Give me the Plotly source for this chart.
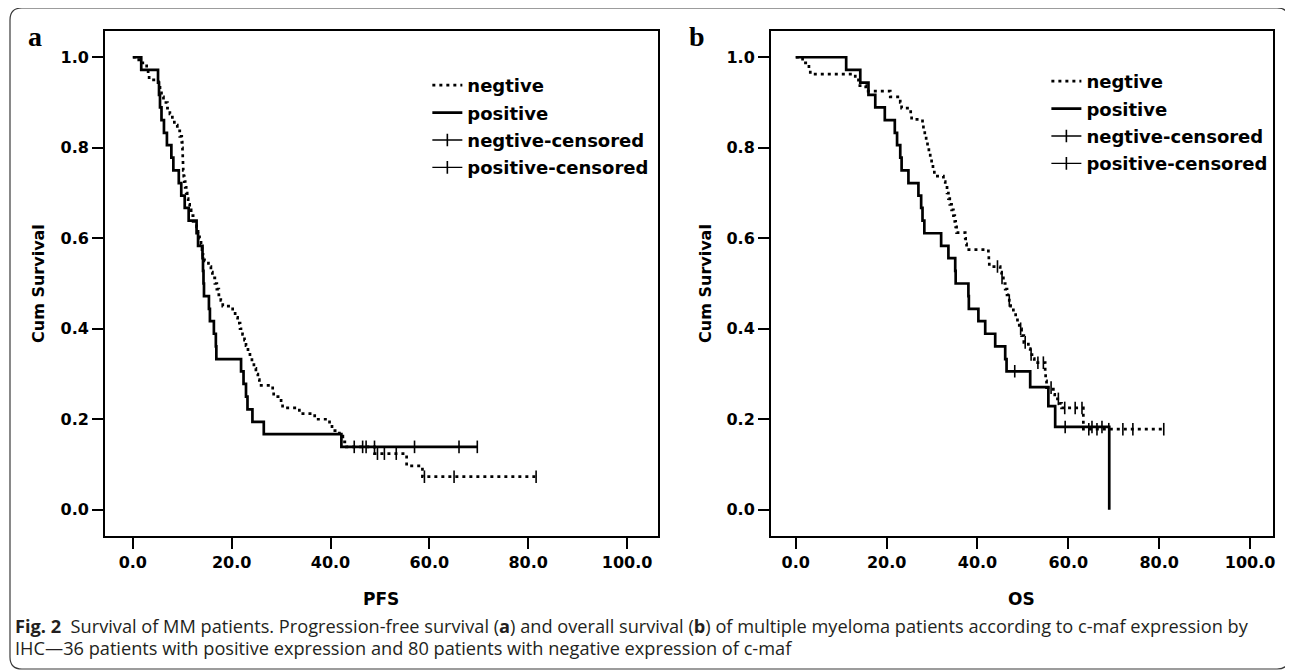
import plotly.graph_objects as go

# page body has an 8px default margin, so the figure is sized to fit the window
OFF = 8
FW, FH = 1293 - OFF, 672 - OFF

# ---------------- data ----------------
# PFS, c-maf positive (solid)
pfs_pos_t = [0, 1.7, 5.1, 5.3, 5.5, 5.8, 6.3, 6.9, 7.8, 8.2, 9.3, 9.8, 10.5, 11.3, 12.9, 13.2,
             14.1, 14.2, 14.3, 14.4, 15.4, 15.6, 16.4, 16.8, 16.9, 21.9, 22.4, 22.9, 23.2, 24.2,
             26.5, 42.2]
pfs_pos_s = [1.0, 0.972, 0.944, 0.917, 0.889, 0.861, 0.833, 0.806, 0.778, 0.750, 0.722, 0.694,
             0.667, 0.639, 0.611, 0.583, 0.556, 0.528, 0.500, 0.472, 0.444, 0.417, 0.389, 0.361,
             0.333, 0.306, 0.278, 0.250, 0.222, 0.194, 0.167, 0.139]
pfs_pos_end = 69.7
pfs_pos_cens_t = [47.2, 48.9, 57.0, 66.0, 69.7]
pfs_pos_cens_s = [0.139, 0.139, 0.139, 0.139, 0.139]

# PFS, c-maf negative (dotted)
pfs_neg_t = [0, 1.2, 2.8, 3.1, 3.3, 5.2, 5.5, 5.8, 6.2, 7.0, 7.5, 8.0, 8.4, 9.0, 9.5, 9.9, 10.0,
             10.05, 10.1, 10.15, 10.2, 10.3, 10.4, 10.6, 10.8, 11.0, 11.2, 11.5, 11.8, 12.2, 12.9,
             13.2, 13.5, 13.8, 14.0, 14.2, 14.5, 15.3, 15.8, 16.1, 16.6, 17.0, 17.4, 17.8, 18.2,
             20.2, 20.7, 21.2, 21.7, 22.2, 22.6, 22.9, 23.3, 23.7, 24.1, 24.5, 24.9, 25.3, 25.6,
             28.3, 28.5, 30.0, 30.3, 33.7, 36.8, 39.8, 40.3, 41.8, 42.5, 43.2, 48.9, 55.4, 58.6]
pfs_neg_s = [1.0, 0.9875, 0.975, 0.9625, 0.95, 0.9375, 0.925, 0.9125, 0.90, 0.8875, 0.875,
             0.8625, 0.85, 0.8375, 0.825, 0.8125, 0.80, 0.7875, 0.775, 0.7625, 0.75, 0.7375,
             0.725, 0.7125, 0.70, 0.6875, 0.675, 0.6625, 0.65, 0.6375, 0.625, 0.6125, 0.60,
             0.5875, 0.575, 0.5625, 0.55, 0.5375, 0.525, 0.5125, 0.50, 0.4875, 0.475, 0.4625,
             0.45, 0.4375, 0.425, 0.4125, 0.40, 0.3875, 0.375, 0.3625, 0.35, 0.3375, 0.325,
             0.3125, 0.30, 0.2875, 0.275, 0.2625, 0.25, 0.2375, 0.225, 0.2125, 0.20, 0.1875,
             0.175, 0.1625, 0.15, 0.139, 0.124, 0.097, 0.073]
pfs_neg_end = 81.6
pfs_neg_cens_t = [44.8, 46.5, 49.5, 50.9, 53.3, 59.0, 65.0, 81.6]
pfs_neg_cens_s = [0.139, 0.139, 0.124, 0.124, 0.124, 0.073, 0.073, 0.073]

# OS, c-maf positive (solid)
os_pos_t = [0, 11.1, 14.2, 16.0, 17.5, 19.6, 21.8, 22.3, 23.0, 23.3, 24.8, 27.0, 27.6, 27.9, 28.3,
            32.0, 33.6, 35.1, 35.2, 38.0, 38.1, 40.2, 41.7, 43.9, 46.1, 46.4, 51.6, 55.6, 57.1,
            69.0]
os_pos_s = [1.0, 0.972, 0.944, 0.917, 0.889, 0.861, 0.833, 0.806, 0.778, 0.750, 0.722, 0.694,
            0.667, 0.639, 0.611, 0.583, 0.556, 0.528, 0.500, 0.472, 0.444, 0.417, 0.389, 0.361,
            0.333, 0.306, 0.271, 0.229, 0.183, 0.0]
os_pos_end = 69.0
os_pos_cens_t = [48.2, 59.3, 65.2, 67.4]
os_pos_cens_s = [0.306, 0.183, 0.183, 0.183]

# OS, c-maf negative (dotted)
os_neg_t = [0, 1.5, 2.9, 3.2, 13.1, 13.8, 15.4, 20.8, 23.0, 23.3, 25.3, 25.5, 27.9, 28.1, 28.4,
            28.7, 29.0, 29.3, 29.6, 29.9, 30.2, 30.5, 32.5, 32.9, 33.3, 33.6, 33.9, 34.3, 34.7,
            35.0, 35.2, 35.4, 37.3, 37.4, 37.6, 42.4, 42.5, 42.6, 45.0, 45.3, 45.7, 46.1, 46.5,
            47.0, 47.3, 47.9, 48.4, 48.8, 49.2, 49.7, 50.2, 51.2, 51.6, 52.0, 52.5, 54.9, 55.0,
            55.2, 56.7, 57.0, 58.0, 58.5, 63.3]
os_neg_s = [1.0, 0.9875, 0.975, 0.9625, 0.95, 0.9375, 0.925, 0.9125, 0.90, 0.8875, 0.875, 0.8625,
            0.85, 0.8375, 0.825, 0.8125, 0.80, 0.7875, 0.775, 0.7625, 0.75, 0.7375, 0.725, 0.7125,
            0.70, 0.6875, 0.675, 0.6625, 0.65, 0.6375, 0.625, 0.6125, 0.60, 0.5875, 0.575,
            0.5625, 0.55, 0.5375, 0.525, 0.5125, 0.50, 0.4875, 0.475, 0.4625, 0.45, 0.4375,
            0.425, 0.4125, 0.40, 0.385, 0.37, 0.356, 0.343, 0.334, 0.325, 0.30, 0.285, 0.27,
            0.255, 0.245, 0.235, 0.225, 0.178]
os_neg_end = 81.0
os_neg_cens_t = [44.4, 45.4, 47.0, 49.5, 50.5, 51.8, 53.3, 54.5, 56.2, 57.8, 59.2, 61.5, 63.0,
                 64.5, 66.3, 68.9, 72.0, 74.2, 81.0]
os_neg_cens_s = [0.5375, 0.5125, 0.4625, 0.40, 0.37, 0.343, 0.325, 0.325, 0.27, 0.245, 0.225,
                 0.225, 0.225, 0.178, 0.178, 0.178, 0.178, 0.178, 0.178]

x_ticks = [0, 20, 40, 60, 80, 100]
y_ticks = [0.0, 0.2, 0.4, 0.6, 0.8, 1.0]
x_titles = ["PFS", "OS"]
y_title = "Cum Survival"
panel_letters = ["a", "b"]
legend_names = ["negtive", "positive", "negtive-censored", "positive-censored"]
caption_1 = ("<b>Fig. 2</b>  Survival of MM patients. Progression-free survival (<b>a</b>) and "
             "overall survival (<b>b</b>) of multiple myeloma patients according to c-maf expression by")
caption_2 = "IHC\u201436 patients with positive expression and 80 patients with negative expression of c-maf"


# ---------------- helpers: window pixel -> paper fraction ----------------
def px(X):
    return (X - OFF) / FW


def py(Y):
    return 1 - (Y - OFF) / FH


def step_xy(t, s, end):
    return list(t) + [end], list(s) + [s[-1]]


def gapped(t, s):
    xs, ys = [], []
    for a, b in zip(t, s):
        xs += [a, None]
        ys += [b, None]
    return xs, ys


BOLD = dict(family="DejaVu Sans", color="black", weight="bold")
fig = go.Figure()

panels = [
    ("x", "y", "legend", (pfs_neg_t, pfs_neg_s, pfs_neg_end), (pfs_pos_t, pfs_pos_s, pfs_pos_end),
     (pfs_neg_cens_t, pfs_neg_cens_s), (pfs_pos_cens_t, pfs_pos_cens_s)),
    ("x2", "y2", "legend2", (os_neg_t, os_neg_s, os_neg_end), (os_pos_t, os_pos_s, os_pos_end),
     (os_neg_cens_t, os_neg_cens_s), (os_pos_cens_t, os_pos_cens_s)),
]

for xa, ya, lg, neg, pos, ncen, pcen in panels:
    nx, ny = step_xy(*neg)
    fig.add_trace(go.Scatter(x=nx, y=ny, mode="lines", line_shape="hv", name=legend_names[0],
                             line=dict(color="black", width=2.7, dash="3px,4px"),
                             xaxis=xa, yaxis=ya, legend=lg, legendgroup="n"))
    sx, sy = step_xy(*pos)
    fig.add_trace(go.Scatter(x=sx, y=sy, mode="lines", line_shape="hv", name=legend_names[1],
                             line=dict(color="black", width=2.7),
                             xaxis=xa, yaxis=ya, legend=lg, legendgroup="p"))
    for (ct, cs), nm, grp in ((ncen, legend_names[2], "nc"), (pcen, legend_names[3], "pc")):
        gx, gy = gapped(ct, cs)
        fig.add_trace(go.Scatter(x=gx, y=gy, mode="lines+markers", name=nm, connectgaps=False,
                                 line=dict(color="black", width=1.3),
                                 marker=dict(symbol="line-ns", size=9, color="black",
                                             line=dict(color="black", width=1.6)),
                                 xaxis=xa, yaxis=ya, legend=lg, legendgroup=grp))

ydom = [py(536), py(31)]
axis_common = dict(showline=True, mirror=True, linecolor="black", linewidth=1.6,
                   ticks="outside", ticklen=11, tickwidth=1.6, tickcolor="black",
                   showgrid=False, zeroline=False, tickfont=dict(size=16, **BOLD))

leg_common = dict(xanchor="left", yanchor="top", bgcolor="rgba(0,0,0,0)",
                  font=dict(size=18, **BOLD), itemwidth=30, tracegroupgap=1)

fig.update_layout(
    width=FW, height=FH, margin=dict(l=0, r=0, t=0, b=0),
    paper_bgcolor="white", plot_bgcolor="white",
    xaxis=dict(domain=[px(105), px(659)], range=[-5.66, 106.26], anchor="y",
               tickvals=x_ticks, tickformat=".1f", **axis_common),
    yaxis=dict(domain=ydom, range=[-0.058, 1.058], anchor="x",
               tickvals=y_ticks, tickformat=".1f", **axis_common),
    xaxis2=dict(domain=[px(772), px(1275)], range=[-5.49, 105.05], anchor="y2",
                tickvals=x_ticks, tickformat=".1f", **axis_common),
    yaxis2=dict(domain=ydom, range=[-0.058, 1.058], anchor="x2",
                tickvals=y_ticks, tickformat=".1f", **axis_common),
    legend=dict(x=px(428), y=py(67), **leg_common),
    legend2=dict(x=px(1048), y=py(63), **leg_common),
)

CM = dict(xref="paper", yref="paper", showarrow=False, xanchor="center", yanchor="middle")
ann = []
# axis titles
for xc, t in ((382, x_titles[0]), (1023, x_titles[1])):
    ann.append(dict(x=px(xc), y=py(599), text=t, font=dict(size=17, **BOLD), **CM))
for xc in (38, 706):
    ann.append(dict(x=px(xc), y=py(283), text=y_title, textangle=-90,
                    font=dict(size=16, **BOLD), **CM))
# panel letters
for xc, t in ((35, panel_letters[0]), (698, panel_letters[1])):
    ann.append(dict(x=px(xc), y=py(37), text="<b>%s</b>" % t,
                    font=dict(family="Liberation Serif", size=28, color="black"), **CM))
# caption
cap_font = dict(family="Open Sans", size=18.2, color="#231f20")
for yc, txt in ((626, caption_1), (648, caption_2)):
    ann.append(dict(x=px(13), y=py(yc), xref="paper", yref="paper", text=txt,
                    xanchor="left", yanchor="middle", showarrow=False, font=cap_font))
fig.update_layout(annotations=ann)

# outer rounded frame
x0, y0, x1, y1, r = px(10), py(8), px(1291), py(669), 12
rx, ry = r / FW, r / FH
path = (f"M {x0 + rx},{y0} L {x1 - rx},{y0} Q {x1},{y0} {x1},{y0 - ry} "
        f"L {x1},{y1 + ry} Q {x1},{y1} {x1 - rx},{y1} L {x0 + rx},{y1} "
        f"Q {x0},{y1} {x0},{y1 + ry} L {x0},{y0 - ry} Q {x0},{y0} {x0 + rx},{y0} Z")
fig.add_shape(type="path", path=path, xref="paper", yref="paper",
              line=dict(color="#3a3a3a", width=1.2), layer="below")

fig.write_html("out.html")
